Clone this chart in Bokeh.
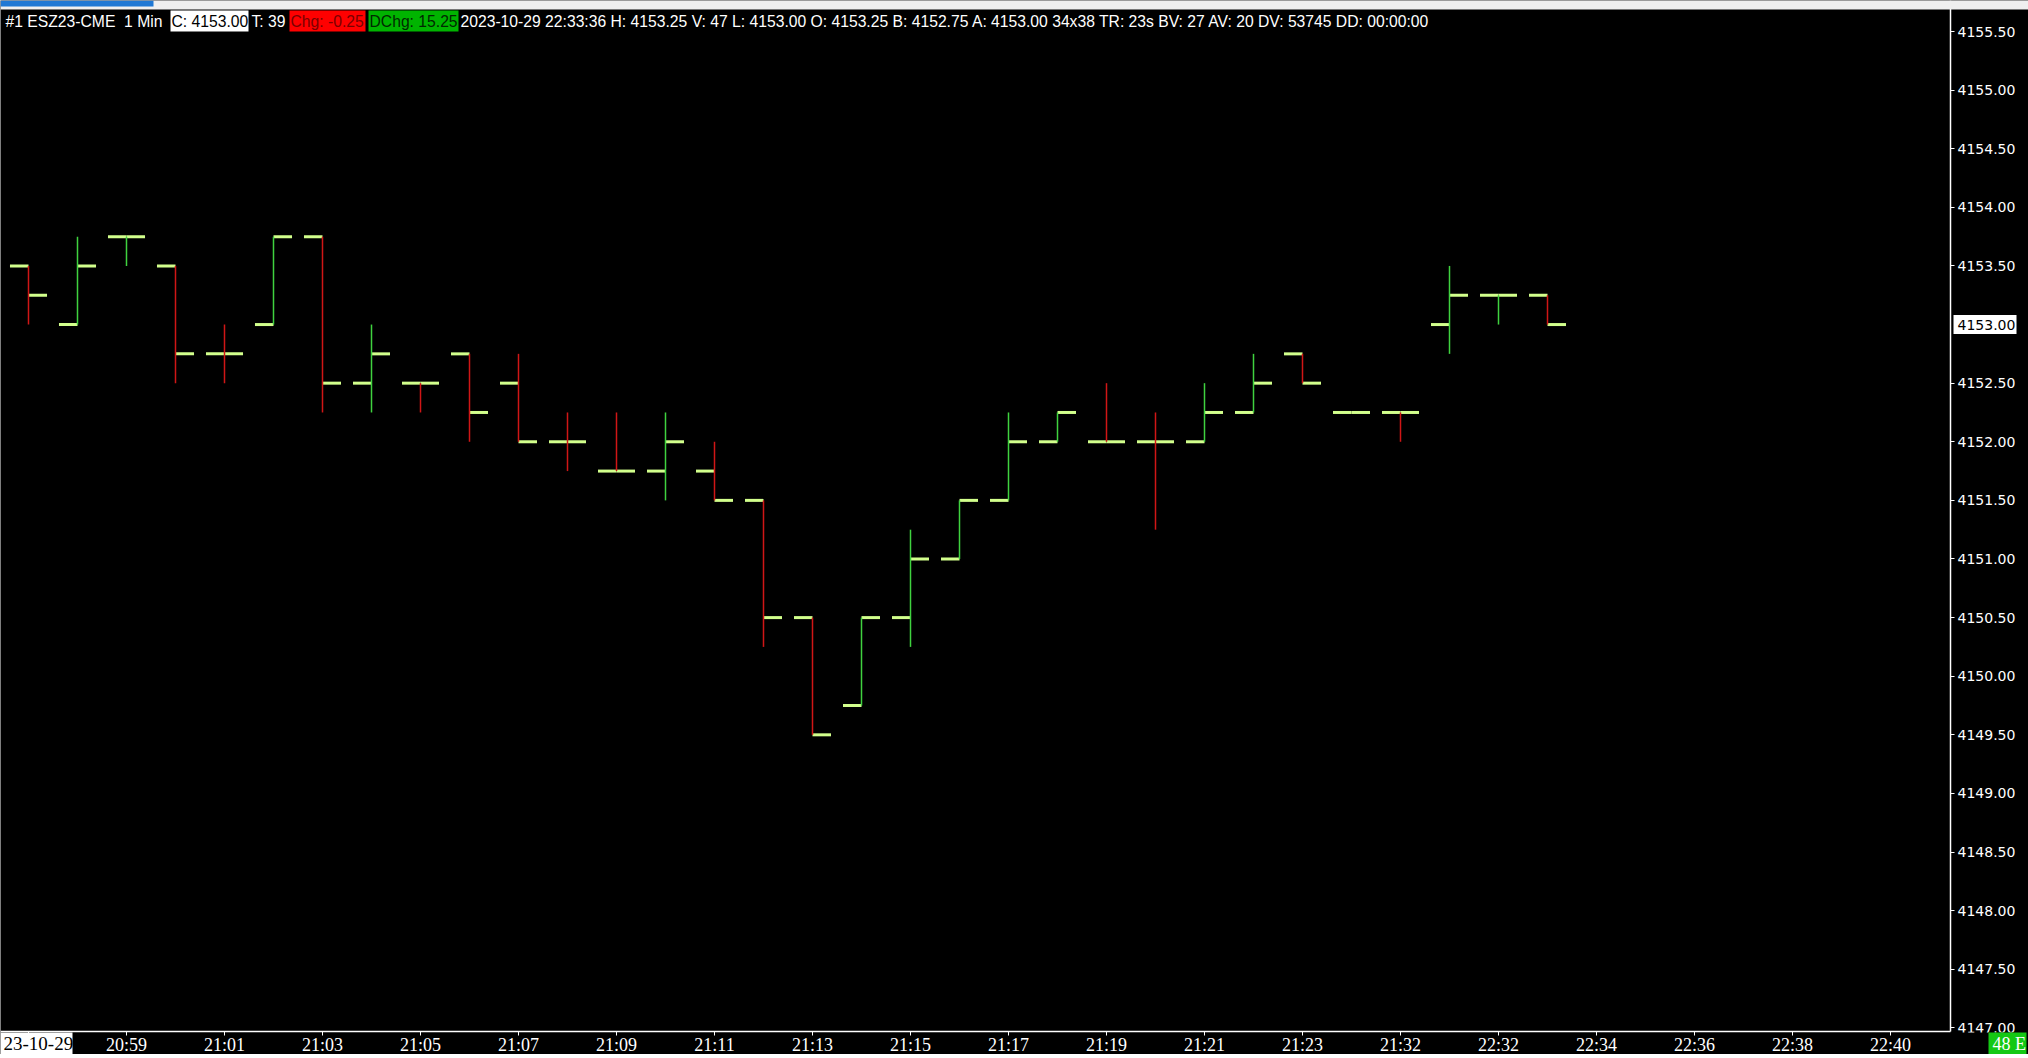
from bokeh.plotting import figure
from bokeh.models import (Range1d, FixedTicker, Label, NumeralTickFormatter,
                          ColumnDataSource, BoxAnnotation)
from bokeh.transform import dodge
from bokeh.embed import file_html
from bokeh.resources import INLINE

# ---------------- data ----------------
bar_index = list(range(32))
opens = [4153.50, 4153.00, 4153.75, 4153.50, 4152.75, 4153.00, 4153.75, 4152.50,
         4152.50, 4152.75, 4152.50, 4152.00, 4151.75, 4151.75, 4151.75, 4151.50,
         4150.50, 4149.75, 4150.50, 4151.00, 4151.50, 4152.00, 4152.00, 4152.00,
         4152.00, 4152.25, 4152.75, 4152.25, 4152.25, 4153.00, 4153.25, 4153.25]
highs = [4153.50, 4153.75, 4153.75, 4153.50, 4153.00, 4153.75, 4153.75, 4153.00,
         4152.50, 4152.75, 4152.75, 4152.25, 4152.25, 4152.25, 4152.00, 4151.50,
         4150.50, 4150.50, 4151.25, 4151.50, 4152.25, 4152.25, 4152.50, 4152.25,
         4152.50, 4152.75, 4152.75, 4152.25, 4152.25, 4153.50, 4153.25, 4153.25]
lows = [4153.00, 4153.00, 4153.50, 4152.50, 4152.50, 4153.00, 4152.25, 4152.25,
        4152.25, 4152.00, 4152.00, 4151.75, 4151.75, 4151.50, 4151.50, 4150.25,
        4149.50, 4149.75, 4150.25, 4151.00, 4151.50, 4152.00, 4152.00, 4151.25,
        4152.00, 4152.25, 4152.50, 4152.25, 4152.00, 4152.75, 4153.00, 4153.00]
closes = [4153.25, 4153.50, 4153.75, 4152.75, 4152.75, 4153.75, 4152.50, 4152.75,
          4152.50, 4152.25, 4152.00, 4152.00, 4151.75, 4152.00, 4151.50, 4150.50,
          4149.50, 4150.50, 4151.00, 4151.50, 4152.00, 4152.25, 4152.00, 4152.00,
          4152.25, 4152.50, 4152.50, 4152.25, 4152.25, 4153.25, 4153.25, 4153.00]

x_tick_positions = [0, 2, 4, 6, 8, 10, 12, 14, 16, 18, 20, 22, 24, 26, 28, 30, 32, 34, 36, 38]
x_tick_labels = ["23-10-29", "20:59", "21:01", "21:03", "21:05", "21:07", "21:09", "21:11",
                 "21:13", "21:15", "21:17", "21:19", "21:21", "21:23", "21:32", "22:32",
                 "22:34", "22:36", "22:38", "22:40"]
price_ticks = [4147.00, 4147.50, 4148.00, 4148.50, 4149.00, 4149.50, 4150.00, 4150.50,
               4151.00, 4151.50, 4152.00, 4152.50, 4153.00, 4153.50, 4154.00, 4154.50,
               4155.00, 4155.50]
last_price = 4153.00

header_texts = ["#1 ESZ23-CME\u00a0 1 Min", "C: 4153.00", "T: 39", "Chg: -0.25", "DChg: 15.25",
                "2023-10-29 22:33:36 H: 4153.25 V: 47 L: 4153.00 O: 4153.25 B: 4152.75 "
                "A: 4153.00 34x38 TR: 23s BV: 27 AV: 20 DV: 53745 DD: 00:00:00"]
date_label = "23-10-29"
status_label = "48 E"

# ---------------- styles / geometry ----------------
UP = "#3fd23f"
DOWN = "#d01616"
TICK = "#d2ff8c"
TICK_LEN = 0.378

W, H = 2028, 1054
X_START, X_END = -0.5714, 40.8163          # frame covers whole canvas
Y_START, Y_END = 4146.7728, 4155.7645
Y_AXIS_AT = 39.2245                         # price scale position (x data)
X_AXIS_AT = 4146.969                        # time scale position (y data)
PX_PER_POINT = 117.22                       # vertical pixels per 1.00 of price


def sy(page_y):
    """page pixel row -> screen units (measured upward from frame bottom)"""
    return H - page_y


def screen_box(left, right, top, bottom, color):
    return BoxAnnotation(left=left, right=right, top=top, bottom=bottom,
                         left_units="screen", right_units="screen",
                         top_units="screen", bottom_units="screen",
                         fill_color=color, fill_alpha=1, line_color=None)


colors = []
prev = UP
for i in range(len(opens)):
    o, c = opens[i], closes[i]
    if c > o:
        col = UP
    elif c < o:
        col = DOWN
    elif i > 0 and c > closes[i - 1]:
        col = UP
    elif i > 0 and c < closes[i - 1]:
        col = DOWN
    else:
        col = prev
    colors.append(col)
    prev = col

src = ColumnDataSource(dict(x=bar_index, o=opens, h=highs, l=lows, c=closes, color=colors))

p = figure(width=W, height=H,
           x_range=Range1d(X_START, X_END), y_range=Range1d(Y_START, Y_END),
           output_backend="svg", toolbar_location=None,
           background_fill_color="black", border_fill_color="black",
           outline_line_color=None, y_axis_location="right",
           min_border_left=0, min_border_top=0, min_border_right=0, min_border_bottom=0)
p.grid.grid_line_color = None

# top window strip
p.add_layout(screen_box(0, W, sy(0), sy(9), "#efefef"))
p.add_layout(screen_box(0, 153, sy(0), sy(6), "#1f78d4"))

# x axis (time scale)
xa = p.xaxis[0]
xa.fixed_location = X_AXIS_AT
xa.bounds = (X_START, Y_AXIS_AT)
xa.ticker = FixedTicker(ticks=x_tick_positions)
xa.major_label_overrides = {pos: (" " if i == 0 else lab)
                            for i, (pos, lab) in enumerate(zip(x_tick_positions, x_tick_labels))}
xa.axis_line_color = "white"
xa.axis_line_width = 1.5
xa.major_tick_line_color = "white"
xa.major_tick_out = 4
xa.major_tick_in = 0
xa.minor_tick_line_color = None
xa.major_label_text_color = "white"
xa.major_label_text_font = "Liberation Sans Narrow"
xa.major_label_text_font_size = "18px"
xa.major_label_standoff = -1

# y axis (price scale); the last price is drawn by the highlighted marker below
ya = p.yaxis[0]
ya.fixed_location = Y_AXIS_AT
ya.bounds = (X_AXIS_AT, Y_END)
ya.ticker = FixedTicker(ticks=[t for t in price_ticks if t != last_price])
ya.formatter = NumeralTickFormatter(format="0.00")
ya.axis_line_color = "white"
ya.axis_line_width = 1.5
ya.major_tick_line_color = "white"
ya.major_tick_out = 4
ya.major_tick_in = 0
ya.minor_tick_line_color = None
ya.major_label_text_color = "white"
ya.major_label_text_font = "DejaVu Sans"
ya.major_label_text_font_size = "14px"
ya.major_label_standoff = 3

# OHLC bars: open tick left, close tick right, then high-low line
p.segment(x0=dodge("x", -TICK_LEN, range=p.x_range), y0="o", x1="x", y1="o",
          source=src, line_color=TICK, line_width=3)
p.segment(x0="x", y0="c", x1=dodge("x", TICK_LEN, range=p.x_range), y1="c",
          source=src, line_color=TICK, line_width=3)
p.segment(x0="x", y0="l", x1="x", y1="h", source=src, line_color="color", line_width=1.5)

# header: coloured boxes, then texts
HF = "Liberation Sans"
HS = "15.7px"
header_x = [5, 171, 251, 290, 369, 460]
header_box = [None, (170, 248, "white"), None, (289, 365, "#ff0000"), (368, 458, "#00b400"), None]
header_fg = ["white", "black", "white", "#7a0000", "#002a00", "white"]
for tx, bx, box, fg in zip(header_texts, header_x, header_box, header_fg):
    if box is not None:
        p.add_layout(screen_box(box[0], box[1], sy(10), sy(31), box[2]))
    p.add_layout(Label(x=bx, y=sy(20.5), x_units="screen", y_units="screen", text=tx,
                       text_font=HF, text_font_size=HS, text_color=fg,
                       text_baseline="middle", text_align="left"))

# current price marker on the price scale (explicit white box + text)
half_h = 9.5 / PX_PER_POINT
p.add_layout(BoxAnnotation(left=1953, right=2016, left_units="screen", right_units="screen",
                           top=last_price + half_h, bottom=last_price - half_h,
                           fill_color="white", fill_alpha=1, line_color=None))
p.add_layout(Label(x=1957, y=last_price, x_units="screen", y_units="data",
                   text=f"{last_price:.2f}", text_font="DejaVu Sans", text_font_size="14px",
                   text_color="black", text_baseline="middle", text_align="left"))

# bottom-right corner (hides lower part of the last price-scale label, like the reference)
p.add_layout(screen_box(1952, W, sy(1032), 0, "black"))

# date box at the start of the time scale
p.add_layout(screen_box(0, 72, sy(1032), 0, "white"))
p.add_layout(Label(x=3, y=sy(1043), x_units="screen", y_units="screen", text=date_label,
                   text_font="Liberation Sans Narrow", text_font_size="19px",
                   text_color="black", text_baseline="middle", text_align="left"))

# status box bottom right
p.add_layout(screen_box(1988, 2026, sy(1032), 0, "#14c814"))
p.add_layout(Label(x=1992, y=sy(1043), x_units="screen", y_units="screen", text=status_label,
                   text_font="Liberation Sans Narrow", text_font_size="18px",
                   text_color="white", text_baseline="middle", text_align="left"))

open("out.html", "w").write(file_html(p, INLINE))
